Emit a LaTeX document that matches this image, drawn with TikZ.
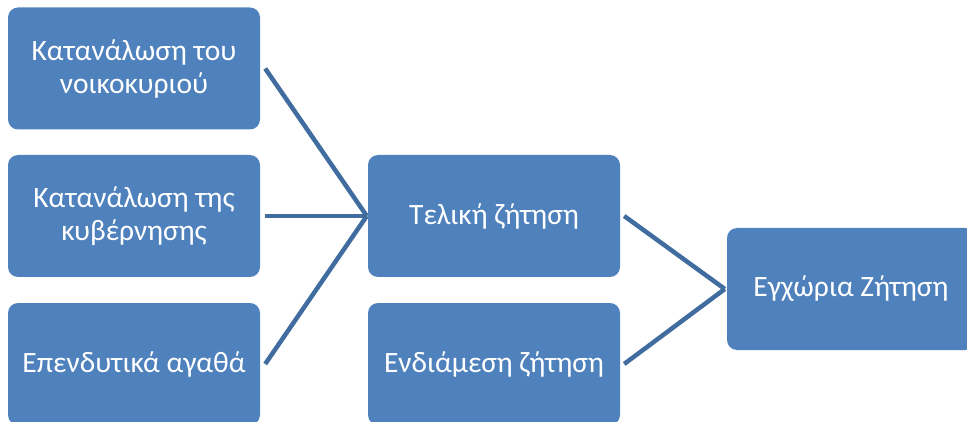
\documentclass[tikz,border=0pt]{standalone}
\usepackage{fontspec}
\setmainfont{Carlito}
\definecolor{boxfill}{HTML}{4F81BD}
\definecolor{linkcol}{RGB}{64,108,160}
\begin{document}
\begin{tikzpicture}[x=1pt,y=-1pt,
  blockbox/.style={fill=boxfill, rounded corners=10pt, minimum width=252pt,
    minimum height=122pt, text=white, align=center, inner sep=0pt,
    font=\fontsize{29.5}{33}\selectfont},
  link/.style={draw=linkcol, line width=4.5pt}]
\useasboundingbox (0,0) rectangle (967,422);
\clip (0,0) rectangle (967,422);
% left column
\node[blockbox] (hh) at (134,68.5) {Κατανάλωση του\\νοικοκυριού};
\node[blockbox] (gov) at (134,216) {Κατανάλωση της\\κυβέρνησης};
\node[blockbox] (inv) at (134,364) {Επενδυτικά αγαθά};
% middle column
\node[blockbox] (fin) at (494,216) {Τελική ζήτηση};
\node[blockbox] (mid) at (494,364) {Ενδιάμεση ζήτηση};
% right column
\node[blockbox, minimum width=248pt] (dom) at (851,289) {Εγχώρια Ζήτηση};
% connectors
\coordinate (finin) at ([xshift=-1pt]fin.west);
\coordinate (domin) at ([xshift=-2pt]dom.west);
\draw[link] ([xshift=5pt]hh.east) -- (finin);
\draw[link] ([xshift=5pt]gov.east) -- (finin);
\draw[link] ([xshift=5pt]inv.east) -- (finin);
\draw[link] ([xshift=4pt]fin.east) -- (domin);
\draw[link] ([xshift=4pt]mid.east) -- (domin);
\end{tikzpicture}
\end{document}
